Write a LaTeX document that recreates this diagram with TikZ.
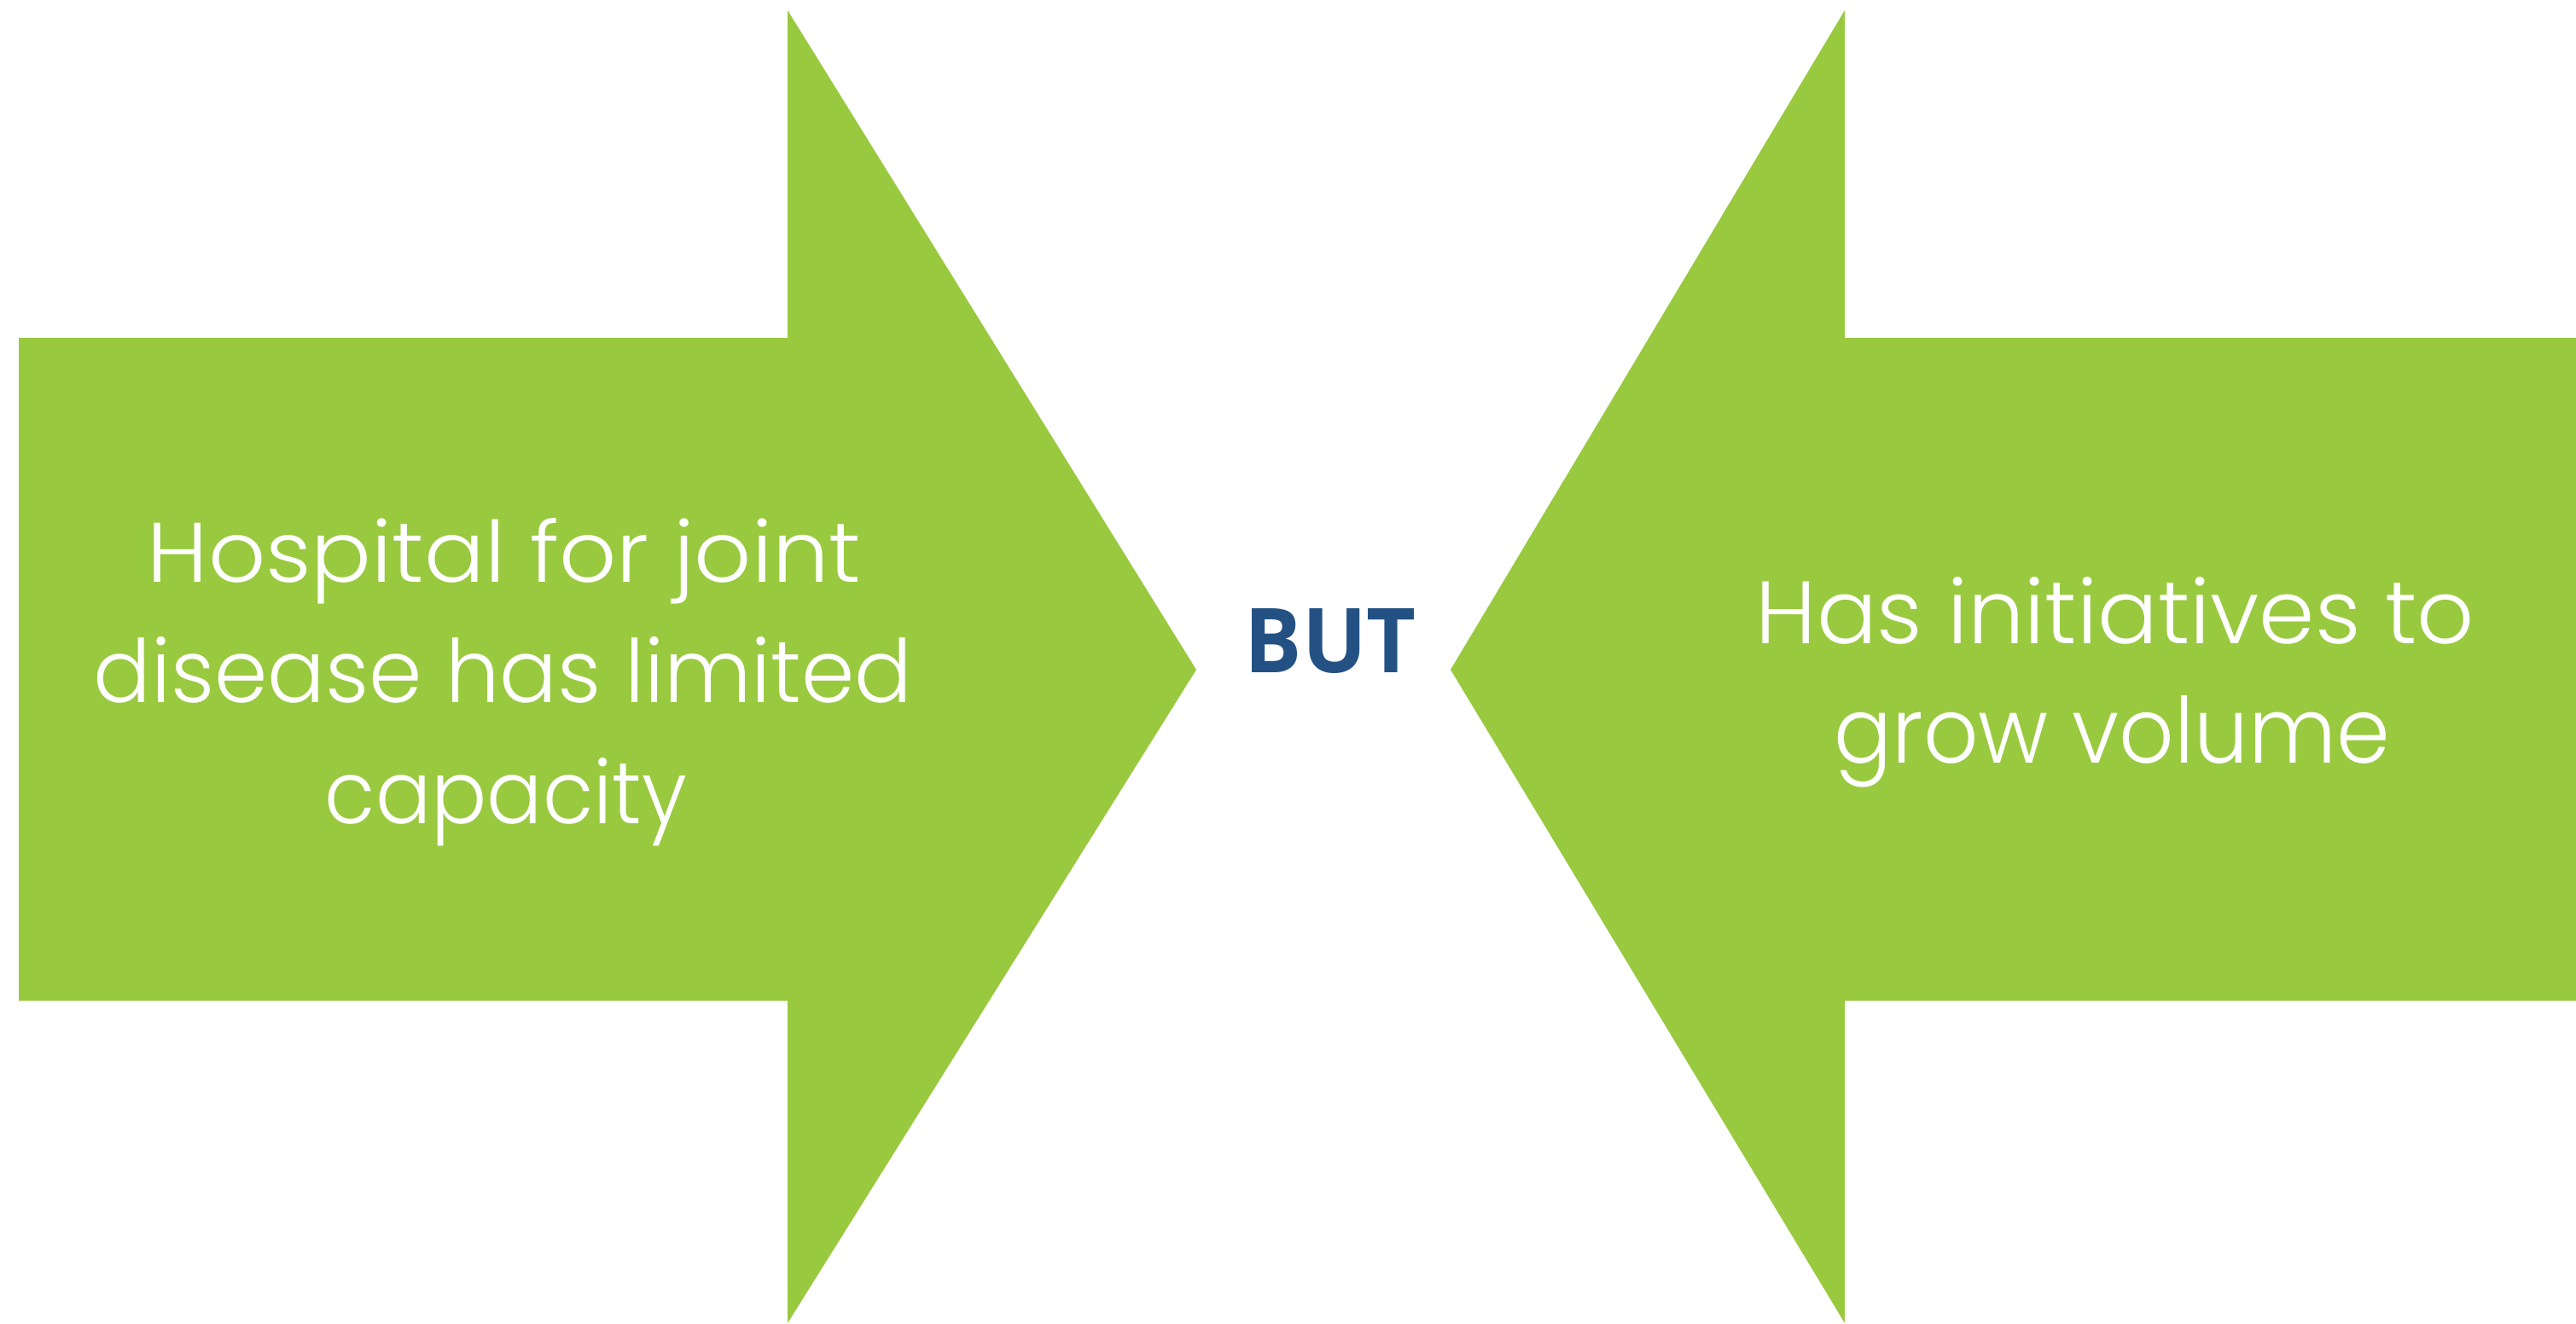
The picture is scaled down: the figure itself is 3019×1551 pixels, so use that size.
\documentclass[tikz,border=0pt]{standalone}
\usepackage{graphicx}
\usepackage{fontspec}
\setmainfont{Lato}
\newfontfamily\thinfont{Poppins Light}[Ligatures=NoCommon]
\newfontfamily\butfont{Open Sans}
\definecolor{arrowgreen}{HTML}{99C93F}
\definecolor{butblue}{HTML}{245183}
\newcommand{\fitline}[3]{\resizebox{#1cm}{#2cm}{#3}}
\begin{document}
\begin{tikzpicture}[x=0.01cm,y=-0.01cm,
  arrowshape/.style={fill=arrowgreen,draw=none},
  linetext/.style={anchor=base west,text=white,inner sep=0pt,font=\thinfont\fontsize{30}{36}\selectfont},
  buttext/.style={anchor=base west,text=butblue,inner sep=0pt,font=\butfont\bfseries\fontsize{30}{36}\selectfont}]
\fill[white] (0,0) rectangle (3019,1551);
\useasboundingbox (0,0) rectangle (3019,1551);
% left arrow
\fill[arrowshape] (22,396) -- (923,396) -- (923,12) -- (1402,785) -- (923,1551) -- (923,1173) -- (22,1173) -- cycle;
% right arrow
\fill[arrowshape] (3019,396) -- (2162,396) -- (2162,12) -- (1700,785) -- (2162,1551) -- (2162,1173) -- (3019,1173) -- cycle;
% texts
\node[linetext] (l1) at (172,682) {\fitline{8.36}{0.75}{Hospital for joint}};
\node[linetext] (l2) at (109,823) {\fitline{9.59}{0.77}{disease has limited}};
\node[linetext] (l3) at (380,965) {\fitline{4.24}{0.77}{capacity}};
\node[linetext] (r1) at (2057,754) {\fitline{8.42}{0.78}{Has initiatives to}};
\node[linetext] (r2) at (2149,894) {\fitline{6.51}{0.79}{grow volume}};
\node[buttext] (but) at (1458,788) {\fitline{2.01}{0.75}{BUT}};
\end{tikzpicture}
\end{document}
